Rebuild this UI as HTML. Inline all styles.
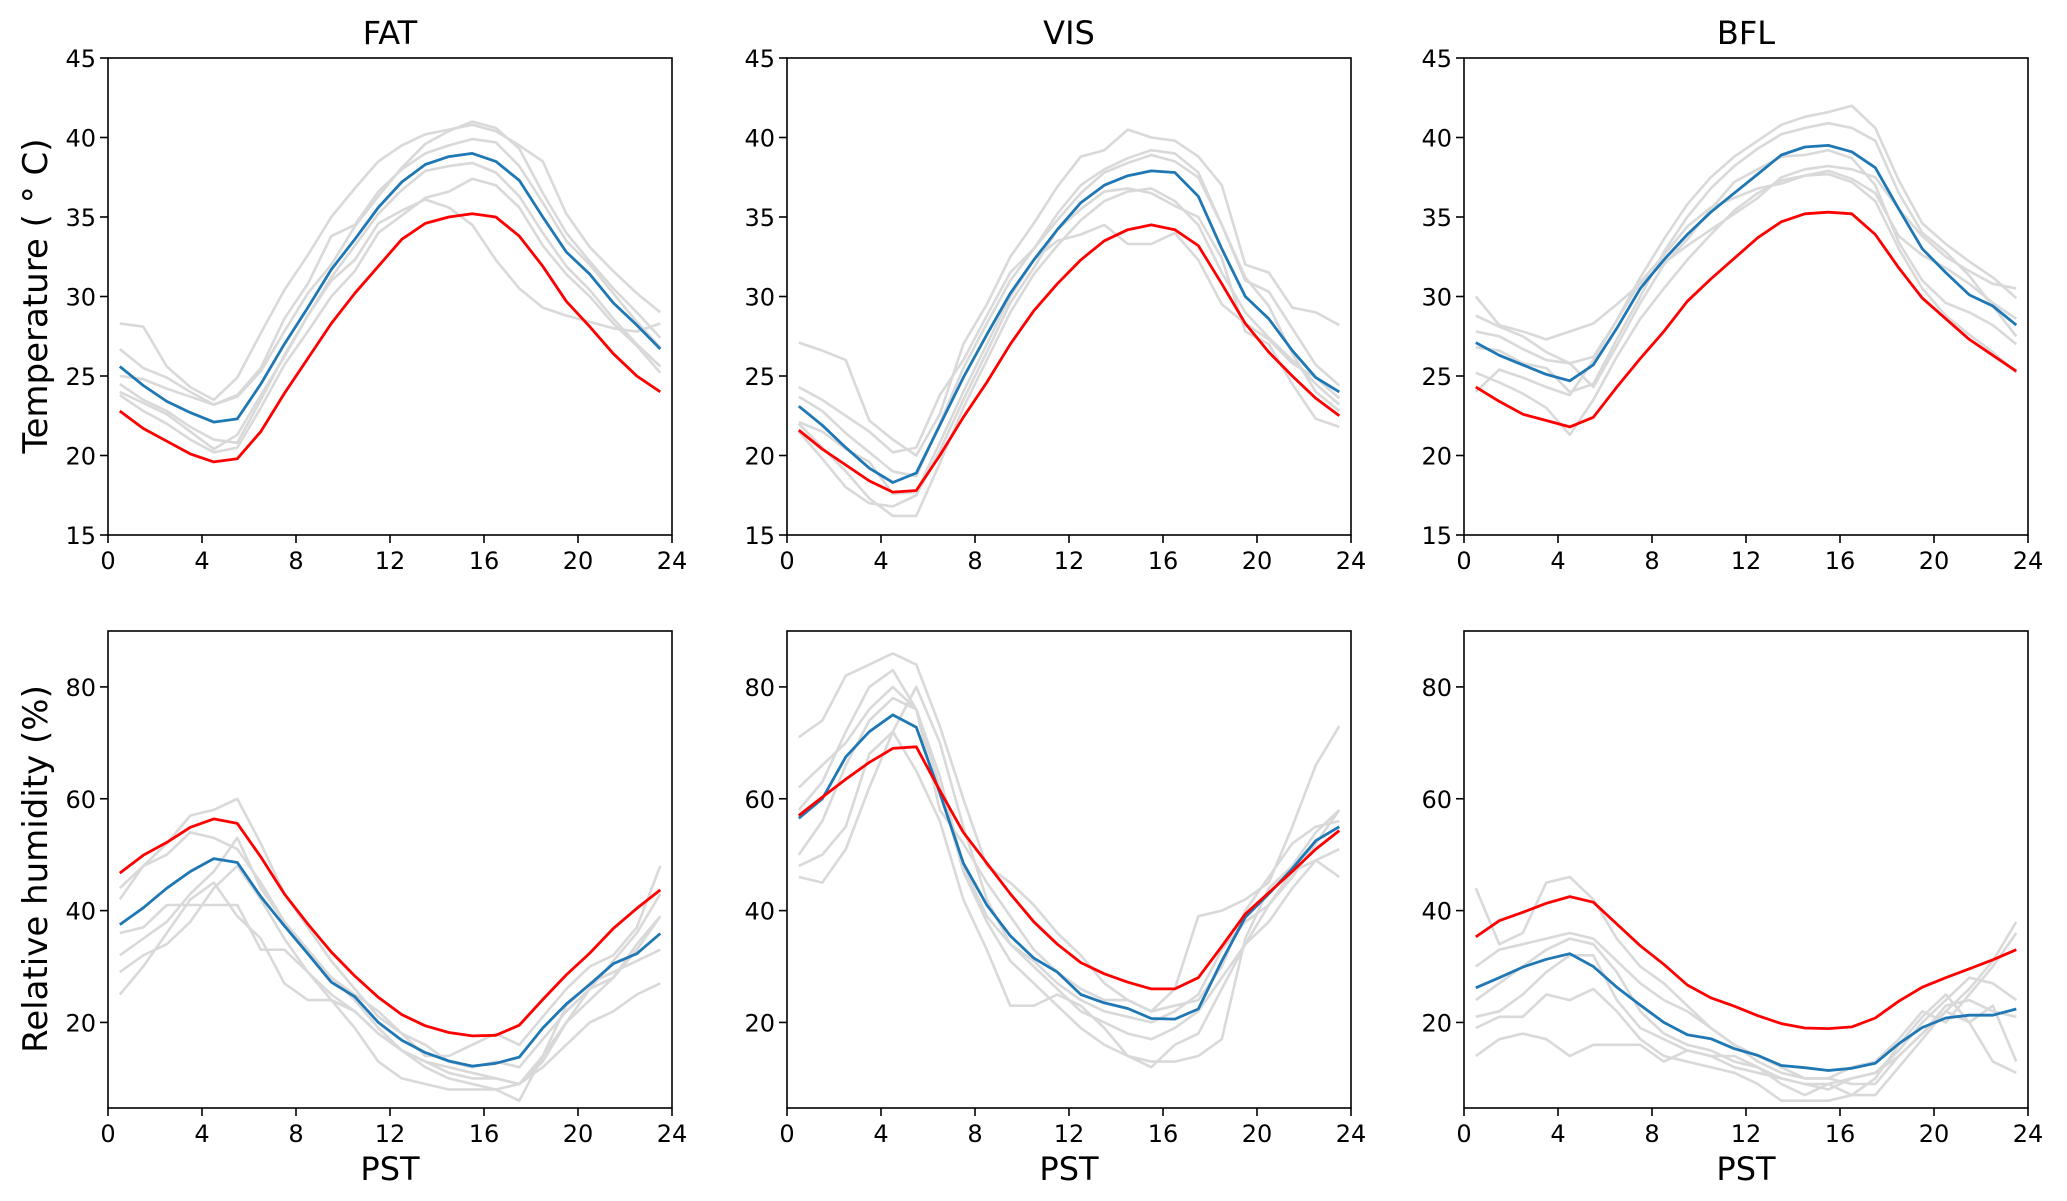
<!DOCTYPE html>
<html><head><meta charset="utf-8"><style>
html,body{margin:0;padding:0;background:#fff;}
svg{display:block;font-family:"DejaVu Sans","Liberation Sans",sans-serif;}
</style></head><body>
<svg id="fig" width="2067" height="1201" viewBox="0 0 2067 1201" xmlns="http://www.w3.org/2000/svg"></svg>
<script>
const hours = [0.5,1.5,2.5,3.5,4.5,5.5,6.5,7.5,8.5,9.5,10.5,11.5,12.5,13.5,14.5,15.5,16.5,17.5,18.5,19.5,20.5,21.5,22.5,23.5];
const sites = ["FAT","VIS","BFL"];
const xTicks = [0,4,8,12,16,20,24];
const tTicks = [15,20,25,30,35,40,45];
const hTicks = [20,40,60,80];

const fatTempBlue = [25.6,24.4,23.4,22.7,22.1,22.3,24.5,27.0,29.3,31.7,33.6,35.6,37.2,38.3,38.8,39.0,38.5,37.3,35.0,32.8,31.4,29.6,28.2,26.7];
const fatTempRed = [22.8,21.7,20.9,20.1,19.6,19.8,21.5,23.9,26.1,28.3,30.2,31.9,33.6,34.6,35.0,35.2,35.0,33.8,31.9,29.7,28.1,26.4,25.0,24.0];
const visTempBlue = [23.1,21.9,20.5,19.2,18.3,18.9,21.9,24.9,27.6,30.2,32.3,34.2,35.9,37.0,37.6,37.9,37.8,36.3,33.0,30.0,28.6,26.6,24.9,24.0];
const visTempRed = [21.6,20.4,19.4,18.4,17.7,17.8,20.0,22.4,24.6,27.0,29.1,30.8,32.3,33.5,34.2,34.5,34.2,33.2,30.8,28.3,26.5,25.0,23.6,22.5];
const bflTempBlue = [27.1,26.3,25.7,25.1,24.7,25.7,28.0,30.5,32.3,33.9,35.3,36.5,37.7,38.9,39.4,39.5,39.1,38.1,35.5,33.0,31.5,30.1,29.4,28.2];
const bflTempRed = [24.3,23.4,22.6,22.2,21.8,22.4,24.3,26.1,27.8,29.7,31.1,32.4,33.7,34.7,35.2,35.3,35.2,33.9,31.8,29.9,28.6,27.3,26.3,25.3];

const fatRhBlue = [37.5,40.5,44,47,49.3,48.6,42.5,37.3,32.3,27.2,24.6,20.0,16.8,14.6,13.1,12.2,12.7,13.8,19.0,23.3,26.8,30.5,32.3,35.9];
const fatRhRed = [46.7,49.9,52.2,54.9,56.4,55.6,49.6,43.0,37.6,32.6,28.3,24.5,21.4,19.4,18.2,17.6,17.7,19.5,24.1,28.5,32.4,36.8,40.4,43.7];
const visRhBlue = [56.5,60,67.5,72,75,72.8,61,48.5,41,35.5,31.5,29,25,23.5,22.5,20.7,20.6,22.4,31,38.8,43,47.5,52.5,55];
const visRhRed = [57,60.3,63.5,66.5,69,69.3,61.5,54,48.5,43,38,34,30.7,28.7,27.2,26.0,26.0,28.0,33.6,39.4,43.2,47,51,54.3];
const bflRhBlue = [26.2,28,29.9,31.3,32.3,30.0,26.3,23.1,20.0,17.8,17.1,15.3,14.1,12.3,11.9,11.4,11.8,12.7,16.2,19.1,20.8,21.3,21.3,22.4];
const bflRhRed = [35.3,38.2,39.7,41.3,42.5,41.5,37.6,33.7,30.4,26.7,24.4,22.9,21.2,19.8,19.0,18.9,19.2,20.8,23.8,26.3,28.0,29.6,31.2,33.0];

const fatTempGrey = [
[28.3,28.1,25.6,24.3,23.5,24.9,27.7,30.4,32.6,35.0,36.8,38.5,39.5,40.2,40.5,40.8,40.4,39.5,38.5,35.2,33.1,31.6,30.2,29.0],
[24.0,23.3,22.6,21.5,20.4,21.3,23.8,26.2,28.8,31.0,32.3,34.6,35.4,36.1,35.6,34.5,32.3,30.5,29.3,28.8,28.4,28.0,27.8,28.3],
[26.7,25.5,24.9,24.0,23.2,23.7,25.3,27.8,30.2,32.0,34.4,36.3,38.1,39.6,40.4,41.0,40.6,39.3,36.5,34.0,32.2,30.5,29.0,27.4],
[24.5,23.5,22.8,21.8,21.0,20.8,23.5,26.3,28.8,31.2,33.2,35.2,36.7,37.9,38.2,38.4,37.8,36.3,34.0,31.9,30.4,28.6,27.0,25.6],
[25.0,24.8,24.2,23.7,23.2,23.8,25.5,28.6,30.8,33.8,34.5,36.6,38.0,39.0,39.5,39.9,39.7,38.2,35.9,33.5,32.0,30.2,28.4,26.8],
[23.8,22.8,22.0,21.0,20.2,20.5,23.0,25.7,27.8,30.0,31.6,34.0,35.1,36.2,36.6,37.4,37.0,35.6,33.2,31.4,30.0,28.3,26.9,25.2]];
const visTempGrey = [
[27.1,26.6,26.0,22.2,21.0,20.0,22.6,27.0,29.5,32.5,34.6,36.9,38.8,39.2,40.5,40.0,39.8,38.8,37.0,32.0,31.5,29.3,29.0,28.2],
[24.3,23.5,22.5,21.5,20.2,20.5,23.8,26.0,28.8,31.5,33.0,34.8,36.5,37.8,38.4,38.9,38.5,37.5,34.5,31.0,30.3,28.0,25.7,24.4],
[22.0,20.5,19.0,17.3,16.2,16.2,19.5,23.0,26.0,29.0,31.4,33.2,34.8,36.0,36.6,36.8,36.0,34.5,31.5,29.0,27.4,26.0,24.5,23.2],
[23.7,22.8,21.4,20.2,19.0,18.7,22.0,25.5,28.3,31.0,33.0,35.2,37.0,38.0,38.7,39.2,39.0,37.8,34.5,31.2,29.4,26.4,24.0,22.8],
[21.5,19.8,18.0,17.0,16.8,17.5,20.3,23.5,26.5,29.6,31.8,34.2,35.5,36.6,36.8,36.5,35.7,35.0,32.4,27.8,27.0,24.5,22.3,21.8],
[22.1,21.5,20.4,19.6,17.6,17.7,20.8,24.0,27.0,30.0,32.3,33.5,33.9,34.5,33.3,33.3,34.0,32.3,29.5,28.3,27.3,25.8,24.9,23.6]];
const bflTempGrey = [
[30.0,28.2,27.8,27.3,27.8,28.3,29.5,30.8,32.1,33.2,34.2,35.2,36.2,37.5,38.0,38.2,38.0,37.5,35.5,33.8,32.5,31.6,30.8,30.5],
[28.8,28.1,27.5,26.5,25.8,26.2,28.5,31.2,33.6,35.8,37.5,38.8,39.8,40.8,41.3,41.6,42.0,40.6,37.3,34.6,33.3,32.2,31.2,29.9],
[25.2,24.6,23.9,23.0,21.3,23.5,26.2,28.6,30.5,32.3,33.9,35.4,36.5,37.3,37.6,37.7,37.2,36.0,33.0,30.5,28.8,27.6,26.5,25.2],
[26.8,26.6,25.8,25.5,24.0,24.5,27.3,30.0,32.8,35.0,36.8,38.2,39.3,40.2,40.6,40.9,40.6,39.8,36.5,34.0,32.8,31.3,29.4,27.5],
[27.8,27.5,26.7,26.0,25.8,24.3,26.9,29.6,32.0,33.6,35.5,37.2,38.0,38.8,38.9,39.2,38.7,37.0,33.4,31.0,29.6,29.0,28.2,27.0],
[24.0,25.4,24.9,24.3,23.8,26.0,28.5,30.9,32.6,34.4,35.6,36.2,36.8,37.1,37.6,37.9,37.4,36.5,33.8,32.6,31.8,30.8,29.6,28.6]];
const fatRhGrey = [
[25,30,36,42,45,39,35,27,24,24,19,13,10,9,8,8,8,6,14,23,27,29,31,33],
[44,48,52,57,58,60,52,43,37,31,26,21,18,16,13,12,13,12,17,22,26,28,34,39],
[29,32,34,38,44,48,42,35,29,25,22,18,15,13,11,10,10,9,14,20,26,31,36,43],
[36,37,41,41,41,41,33,33,29,24,22,18,15,13,12,11,10,9,12,16,20,22,25,27],
[42,48,50,54,53,51,45,38,33,28,24,19,15,12,10,9,8,9,13,20,24,28,33,39],
[32,35,38,43,47,53,44,38,33,28,25,22,18,14,14,16,18,16,21,26,30,32,37,48]];
const visRhGrey = [
[71,74,82,84,86,84,73,60,48,45,41,36,32,27,24,22,26,39,40,42,45,55,66,73],
[46,45,51,62,72,80,70,55,42,34,31,27,24,22,21,20,22,25,33,38,41,46,52,58],
[50,56,66,74,78,76,64,48,39,34,30,26,22,20,18,17,19,22,28,34,38,44,49,51],
[58,63,72,80,83,76,62,47,38,31,27,23,19,16,14,13,13,14,17,35,44,48,54,58],
[62,66,70,76,80,76,58,52,45,39,33,29,26,24,24,22,23,24,30,40,46,52,55,56],
[48,50,55,68,72,65,56,42,33,23,23,25,23,19,14,12,16,18,26,34,41,47,49,46]];
const bflRhGrey = [
[44,34,36,45,46,42,35,30,27,23,19,16,13,11,10,10,9,9,14,18,22,26,31,38],
[14,17,18,17,14,16,16,16,13,15,14,14,12,9,7,9,7,7,12,17,22,20,23,13],
[19,21,21,25,24,26,22,17,14,13,12,11,9,6,6,6,7,10,16,21,25,20,13,11],
[24,27,30,33,35,34,29,22,18,16,15,13,12,10,9,8,10,11,15,20,24,28,27,24],
[30,33,34,35,36,35,31,27,24,22,19,16,14,12,10,10,12,13,17,22,20,25,30,36],
[21,22,25,29,32,32,24,19,17,15,14,12,11,10,9,9,10,11,14,18,23,24,22,21]];

const NS = "http://www.w3.org/2000/svg";
const svg = document.getElementById('fig');
function mk(tag, attrs, parent){const e=document.createElementNS(NS,tag);for(const k in attrs)e.setAttribute(k,attrs[k]);(parent||svg).appendChild(e);return e;}

const colLeft = [108,787,1464];
const rowTop = [58,631];
const W = 564, H = 477;
const panels = [
 {row:0,col:0,grey:fatTempGrey,blue:fatTempBlue,red:fatTempRed,ymin:15,ymax:45,ticks:tTicks},
 {row:0,col:1,grey:visTempGrey,blue:visTempBlue,red:visTempRed,ymin:15,ymax:45,ticks:tTicks},
 {row:0,col:2,grey:bflTempGrey,blue:bflTempBlue,red:bflTempRed,ymin:15,ymax:45,ticks:tTicks},
 {row:1,col:0,grey:fatRhGrey,blue:fatRhBlue,red:fatRhRed,ymin:4.7,ymax:90,ticks:hTicks},
 {row:1,col:1,grey:visRhGrey,blue:visRhBlue,red:visRhRed,ymin:4.7,ymax:90,ticks:hTicks},
 {row:1,col:2,grey:bflRhGrey,blue:bflRhBlue,red:bflRhRed,ymin:4.7,ymax:90,ticks:hTicks}];

panels.forEach(p=>{
  const x0=colLeft[p.col], y0=rowTop[p.row];
  const xs=v=>x0+v/24*W;
  const ys=v=>y0+H-(v-p.ymin)/(p.ymax-p.ymin)*H;
  const g=mk('g',{});
  
  
  const clipId='c'+p.row+p.col;
  const cp=mk('clipPath',{id:clipId},g);mk('rect',{x:x0,y:y0,width:W,height:H},cp);
  const pts=arr=>arr.map((v,i)=>xs(hours[i]).toFixed(1)+','+ys(v).toFixed(1)).join(' ');
  p.grey.forEach((s,k)=>{
    const l=mk('polyline',{points:pts(s),fill:'none',stroke:'#d9d9d9','stroke-width':2.6,'stroke-linejoin':'round','clip-path':'url(#'+clipId+')'},g);
    
    
  });
  const b=mk('polyline',{points:pts(p.blue),fill:'none',stroke:'#1f77b4','stroke-width':2.8,'stroke-linejoin':'round'},g);
  
  
  const r=mk('polyline',{points:pts(p.red),fill:'none',stroke:'#ff0000','stroke-width':2.8,'stroke-linejoin':'round'},g);
  
  
  const fr=mk('rect',{x:x0,y:y0,width:W,height:H,fill:'none',stroke:'#000','stroke-width':1.6},g);
  
  
  xTicks.forEach(t=>{
    const X=xs(t);
    mk('line',{x1:X,x2:X,y1:y0+H,y2:y0+H+8,stroke:'#000','stroke-width':1.6},g);
    const tx=mk('text',{x:X,y:y0+H+34,'text-anchor':'middle','font-size':24,fill:'#000'},g);
    tx.textContent=t;
    
    
  });
  p.ticks.forEach(t=>{
    const Y=ys(t);
    mk('line',{x1:x0-8,x2:x0,y1:Y,y2:Y,stroke:'#000','stroke-width':1.6},g);
    const tx=mk('text',{x:x0-12,y:Y+9,'text-anchor':'end','font-size':24,fill:'#000'},g);
    tx.textContent=t;
    
    
  });
  if(p.row===0){
    const tt=mk('text',{x:x0+W/2,y:44,'text-anchor':'middle','font-size':32,fill:'#000'},g);
    tt.textContent=sites[p.col];
    
    
  } else {
    const xl=mk('text',{x:x0+W/2,y:1180,'text-anchor':'middle','font-size':32,fill:'#000'},g);
    xl.textContent='PST';
    
    
  }
});
const yl1=mk('text',{x:0,y:0,'text-anchor':'middle','font-size':34,fill:'#000',transform:'translate(47,296) rotate(-90)'});
yl1.textContent='Temperature ( \u00B0 C)';


const yl2=mk('text',{x:0,y:0,'text-anchor':'middle','font-size':34,fill:'#000',transform:'translate(47,869) rotate(-90)'});
yl2.textContent='Relative humidity (%)';


</script>
</body></html>
